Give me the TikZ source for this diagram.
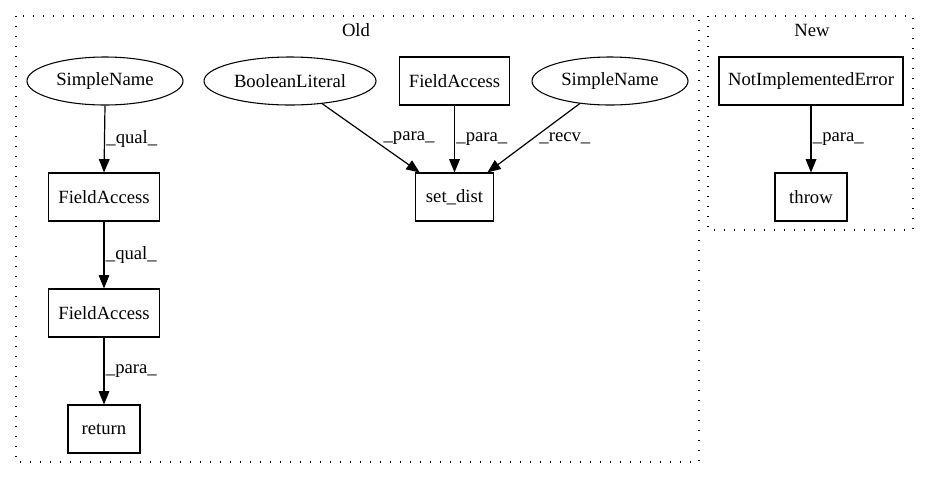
\documentclass[tikz,border=0pt]{standalone}
\usepackage{fontspec}
\setmainfont{Liberation Serif}
\usetikzlibrary{arrows.meta,shapes.geometric}
\begin{document}
\begin{tikzpicture}[x=0.75pt,y=-0.75pt,
  every node/.style={font=\fontsize{14}{16}\selectfont},
  box/.style={draw,line width=0.8pt,minimum height=36pt,inner sep=0pt},
  oval/.style={draw,ellipse,line width=0.8pt,minimum height=36pt,inner sep=0pt},
  conn/.style={draw,line width=0.9pt,-{Triangle[length=10pt,width=8pt]}},
  elabel/.style={inner sep=1pt},
  cluster/.style={draw,line width=0.8pt,dash pattern=on 1pt off 6.5pt},
]
\useasboundingbox (0,0) rectangle (931,480);
% clusters
\draw[cluster] (16,16) rectangle (699,462);
\draw[cluster] (708,16) rectangle (913,230);
\node (oldlbl) at (356,30) {Old};
\node (newlbl) at (812,30) {New};
% Old nodes
\node[oval,minimum width=117pt] (sn1) at (105,81) {SimpleName};
\node[box,minimum width=83pt] (fa1) at (104,197) {FieldAccess};
\node[box,minimum width=83pt] (fa2) at (104,313) {FieldAccess};
\node[box,minimum width=54pt] (ret) at (104,429) {return};
\node[oval,minimum width=129pt] (bl) at (290,81) {BooleanLiteral};
\node[box,minimum width=83pt] (fa3) at (454.5,81) {FieldAccess};
\node[oval,minimum width=117pt] (sn2) at (610,81) {SimpleName};
\node[box,minimum width=58pt] (sd) at (454.5,197) {set\_dist};
% New nodes
\node[box,minimum width=138pt] (nie) at (811,81) {NotImplementedError};
\node[box,minimum width=54pt] (thr) at (811,197) {throw};
% edges
\draw[conn] (sn1.south) -- node[midway,right,elabel] {\_qual\_} (fa1.north);
\draw[conn] (fa1.south) -- node[midway,right,elabel] {\_qual\_} (fa2.north);
\draw[conn] (fa2.south) -- node[midway,right,elabel] {\_para\_} (ret.north);
\draw[conn] (bl) -- node[midway,anchor=west,xshift=8pt,elabel] {\_para\_} (sd);
\draw[conn] (fa3.south) -- node[midway,right,elabel] {\_para\_} (sd.north);
\draw[conn] (sn2) -- node[midway,anchor=west,xshift=3pt,elabel] {\_recv\_} (sd);
\draw[conn] (nie.south) -- node[midway,right,elabel] {\_para\_} (thr.north);
\end{tikzpicture}
\end{document}
